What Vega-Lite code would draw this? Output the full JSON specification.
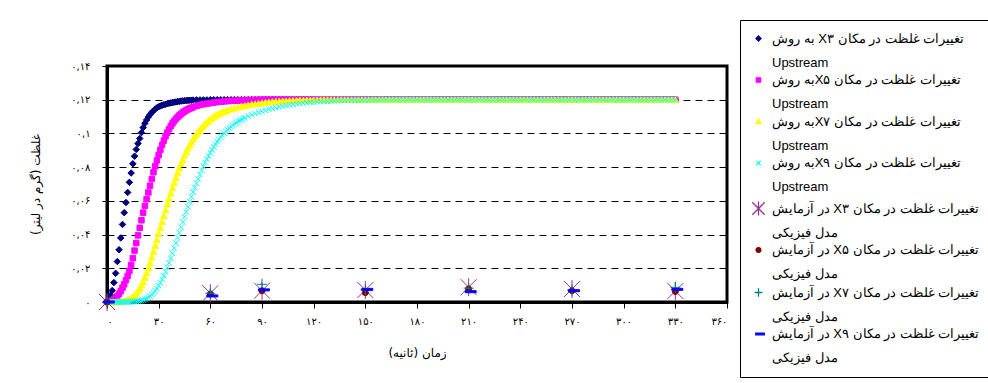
{
"$schema": "https://vega.github.io/schema/vega-lite/v6.json",
"width": 620, "height": 236,
"autosize": {"type": "none"},
"padding": {"left": 107, "top": 66, "right": 261, "bottom": 81},
"background": "white",
"data": {"values": [
{"s":"a","t":0,"c":0},{"s":"a","t":1,"c":0.0015},{"s":"a","t":2,"c":0.004},{"s":"a","t":3,"c":0.0068},{"s":"a","t":4,"c":0.0115},{"s":"a","t":5,"c":0.017},{"s":"a","t":6,"c":0.024},{"s":"a","t":7,"c":0.031},{"s":"a","t":8,"c":0.038},{"s":"a","t":9,"c":0.046},{"s":"a","t":10,"c":0.053},{"s":"a","t":11,"c":0.059},{"s":"a","t":12,"c":0.065},{"s":"a","t":13,"c":0.071},{"s":"a","t":14,"c":0.0765},{"s":"a","t":15,"c":0.082},{"s":"a","t":16,"c":0.0865},{"s":"a","t":17,"c":0.0905},{"s":"a","t":18,"c":0.094},{"s":"a","t":19,"c":0.097},{"s":"a","t":20,"c":0.1005},{"s":"a","t":21,"c":0.1035},{"s":"a","t":22,"c":0.106},{"s":"a","t":23,"c":0.108},{"s":"a","t":24,"c":0.1098},{"s":"a","t":25,"c":0.1112},{"s":"a","t":26,"c":0.1125},{"s":"a","t":27,"c":0.1135},{"s":"a","t":28,"c":0.1145},{"s":"a","t":29,"c":0.1152},{"s":"a","t":30,"c":0.1158},{"s":"a","t":31,"c":0.1163},{"s":"a","t":32,"c":0.1167},{"s":"a","t":33,"c":0.117},{"s":"a","t":34,"c":0.1173},{"s":"a","t":35,"c":0.1176},{"s":"a","t":36,"c":0.1179},{"s":"a","t":37,"c":0.1181},{"s":"a","t":38,"c":0.1183},{"s":"a","t":39,"c":0.1185},{"s":"a","t":40,"c":0.1187},{"s":"a","t":41,"c":0.1189},{"s":"a","t":42,"c":0.119},{"s":"a","t":43,"c":0.1192},{"s":"a","t":44,"c":0.1193},{"s":"a","t":45,"c":0.1194},{"s":"a","t":46,"c":0.1195},{"s":"a","t":47,"c":0.1196},{"s":"a","t":48,"c":0.1197},{"s":"a","t":49,"c":0.1197},{"s":"a","t":50,"c":0.1198},{"s":"a","t":52,"c":0.1199},{"s":"a","t":54,"c":0.1199},{"s":"a","t":56,"c":0.1199},{"s":"a","t":58,"c":0.1199},
{"s":"a","t":60,"c":0.12},{"s":"a","t":62,"c":0.12},{"s":"a","t":64,"c":0.12},{"s":"a","t":66,"c":0.12},{"s":"a","t":68,"c":0.12},{"s":"a","t":70,"c":0.12},{"s":"a","t":72,"c":0.12},{"s":"a","t":74,"c":0.12},{"s":"a","t":76,"c":0.12},{"s":"a","t":78,"c":0.12},{"s":"a","t":80,"c":0.12},{"s":"a","t":82,"c":0.12},{"s":"a","t":84,"c":0.12},{"s":"a","t":86,"c":0.12},{"s":"a","t":88,"c":0.12},{"s":"a","t":90,"c":0.12},{"s":"a","t":92,"c":0.12},{"s":"a","t":94,"c":0.12},{"s":"a","t":96,"c":0.12},{"s":"a","t":98,"c":0.12},{"s":"a","t":100,"c":0.12},{"s":"a","t":102,"c":0.12},{"s":"a","t":104,"c":0.12},{"s":"a","t":106,"c":0.12},{"s":"a","t":108,"c":0.12},{"s":"a","t":110,"c":0.12},{"s":"a","t":112,"c":0.12},{"s":"a","t":114,"c":0.12},{"s":"a","t":116,"c":0.12},{"s":"a","t":118,"c":0.12},{"s":"a","t":120,"c":0.12},{"s":"a","t":122,"c":0.12},{"s":"a","t":124,"c":0.12},{"s":"a","t":126,"c":0.12},{"s":"a","t":128,"c":0.12},{"s":"a","t":130,"c":0.12},{"s":"a","t":132,"c":0.12},{"s":"a","t":134,"c":0.12},{"s":"a","t":136,"c":0.12},{"s":"a","t":138,"c":0.12},{"s":"a","t":140,"c":0.12},{"s":"a","t":142,"c":0.12},{"s":"a","t":144,"c":0.12},{"s":"a","t":146,"c":0.12},{"s":"a","t":148,"c":0.12},{"s":"a","t":150,"c":0.12},{"s":"a","t":152,"c":0.12},{"s":"a","t":154,"c":0.12},{"s":"a","t":156,"c":0.12},{"s":"a","t":158,"c":0.12},{"s":"a","t":160,"c":0.12},{"s":"a","t":162,"c":0.12},{"s":"a","t":164,"c":0.12},{"s":"a","t":166,"c":0.12},{"s":"a","t":168,"c":0.12},{"s":"a","t":170,"c":0.12},{"s":"a","t":172,"c":0.12},{"s":"a","t":174,"c":0.12},{"s":"a","t":176,"c":0.12},{"s":"a","t":178,"c":0.12},{"s":"a","t":180,"c":0.12},{"s":"a","t":182,"c":0.12},{"s":"a","t":184,"c":0.12},{"s":"a","t":186,"c":0.12},{"s":"a","t":188,"c":0.12},{"s":"a","t":190,"c":0.12},{"s":"a","t":192,"c":0.12},{"s":"a","t":194,"c":0.12},{"s":"a","t":196,"c":0.12},{"s":"a","t":198,"c":0.12},{"s":"a","t":200,"c":0.12},{"s":"a","t":202,"c":0.12},{"s":"a","t":204,"c":0.12},{"s":"a","t":206,"c":0.12},{"s":"a","t":208,"c":0.12},{"s":"a","t":210,"c":0.12},{"s":"a","t":212,"c":0.12},{"s":"a","t":214,"c":0.12},{"s":"a","t":216,"c":0.12},{"s":"a","t":218,"c":0.12},{"s":"a","t":220,"c":0.12},{"s":"a","t":222,"c":0.12},{"s":"a","t":224,"c":0.12},{"s":"a","t":226,"c":0.12},{"s":"a","t":228,"c":0.12},{"s":"a","t":230,"c":0.12},{"s":"a","t":232,"c":0.12},{"s":"a","t":234,"c":0.12},{"s":"a","t":236,"c":0.12},{"s":"a","t":238,"c":0.12},{"s":"a","t":240,"c":0.12},{"s":"a","t":242,"c":0.12},{"s":"a","t":244,"c":0.12},{"s":"a","t":246,"c":0.12},{"s":"a","t":248,"c":0.12},{"s":"a","t":250,"c":0.12},{"s":"a","t":252,"c":0.12},{"s":"a","t":254,"c":0.12},{"s":"a","t":256,"c":0.12},{"s":"a","t":258,"c":0.12},{"s":"a","t":260,"c":0.12},{"s":"a","t":262,"c":0.12},{"s":"a","t":264,"c":0.12},{"s":"a","t":266,"c":0.12},{"s":"a","t":268,"c":0.12},{"s":"a","t":270,"c":0.12},{"s":"a","t":272,"c":0.12},{"s":"a","t":274,"c":0.12},{"s":"a","t":276,"c":0.12},{"s":"a","t":278,"c":0.12},{"s":"a","t":280,"c":0.12},{"s":"a","t":282,"c":0.12},{"s":"a","t":284,"c":0.12},{"s":"a","t":286,"c":0.12},{"s":"a","t":288,"c":0.12},{"s":"a","t":290,"c":0.12},{"s":"a","t":292,"c":0.12},{"s":"a","t":294,"c":0.12},{"s":"a","t":296,"c":0.12},{"s":"a","t":298,"c":0.12},{"s":"a","t":300,"c":0.12},{"s":"a","t":302,"c":0.12},{"s":"a","t":304,"c":0.12},{"s":"a","t":306,"c":0.12},{"s":"a","t":308,"c":0.12},{"s":"a","t":310,"c":0.12},{"s":"a","t":312,"c":0.12},{"s":"a","t":314,"c":0.12},{"s":"a","t":316,"c":0.12},{"s":"a","t":318,"c":0.12},{"s":"a","t":320,"c":0.12},{"s":"a","t":322,"c":0.12},{"s":"a","t":324,"c":0.12},{"s":"a","t":326,"c":0.12},{"s":"a","t":328,"c":0.12},{"s":"a","t":330,"c":0.12},
{"s":"b","t":0,"c":0},{"s":"b","t":1,"c":0},{"s":"b","t":2,"c":0.0003},{"s":"b","t":3,"c":0.0008},{"s":"b","t":4,"c":0.0015},{"s":"b","t":5,"c":0.0025},{"s":"b","t":6,"c":0.0035},{"s":"b","t":7,"c":0.0048},{"s":"b","t":8,"c":0.0065},{"s":"b","t":9,"c":0.0085},{"s":"b","t":10,"c":0.0105},{"s":"b","t":11,"c":0.013},{"s":"b","t":12,"c":0.0155},{"s":"b","t":13,"c":0.0185},{"s":"b","t":14,"c":0.022},{"s":"b","t":15,"c":0.026},{"s":"b","t":16,"c":0.0305},{"s":"b","t":17,"c":0.035},{"s":"b","t":18,"c":0.0395},{"s":"b","t":19,"c":0.044},{"s":"b","t":20,"c":0.0485},{"s":"b","t":21,"c":0.053},{"s":"b","t":22,"c":0.057},{"s":"b","t":23,"c":0.061},{"s":"b","t":24,"c":0.065},{"s":"b","t":25,"c":0.069},{"s":"b","t":26,"c":0.073},{"s":"b","t":27,"c":0.077},{"s":"b","t":28,"c":0.0805},{"s":"b","t":29,"c":0.084},{"s":"b","t":30,"c":0.0872},{"s":"b","t":31,"c":0.0903},{"s":"b","t":32,"c":0.0932},{"s":"b","t":33,"c":0.0958},{"s":"b","t":34,"c":0.0983},{"s":"b","t":35,"c":0.1005},{"s":"b","t":36,"c":0.1025},{"s":"b","t":37,"c":0.1043},{"s":"b","t":38,"c":0.1059},{"s":"b","t":39,"c":0.1073},{"s":"b","t":40,"c":0.1086},{"s":"b","t":41,"c":0.1097},{"s":"b","t":42,"c":0.1107},{"s":"b","t":43,"c":0.1116},{"s":"b","t":44,"c":0.1124},{"s":"b","t":45,"c":0.1131},{"s":"b","t":46,"c":0.1137},{"s":"b","t":47,"c":0.1143},{"s":"b","t":48,"c":0.1148},{"s":"b","t":49,"c":0.1152},{"s":"b","t":50,"c":0.1156},{"s":"b","t":52,"c":0.1163},{"s":"b","t":54,"c":0.1169},{"s":"b","t":56,"c":0.1173},{"s":"b","t":58,"c":0.1177},{"s":"b","t":60,"c":0.118},{"s":"b","t":62,"c":0.1183},{"s":"b","t":64,"c":0.1186},{"s":"b","t":66,"c":0.1188},{"s":"b","t":68,"c":0.119},{"s":"b","t":70,"c":0.1192},{"s":"b","t":72,"c":0.1193},{"s":"b","t":74,"c":0.1194},{"s":"b","t":76,"c":0.1195},{"s":"b","t":78,"c":0.1196},{"s":"b","t":80,"c":0.1197},{"s":"b","t":82,"c":0.1198},{"s":"b","t":84,"c":0.1198},{"s":"b","t":86,"c":0.1199},{"s":"b","t":88,"c":0.1199},
{"s":"b","t":90,"c":0.12},{"s":"b","t":92,"c":0.12},{"s":"b","t":94,"c":0.12},{"s":"b","t":96,"c":0.12},{"s":"b","t":98,"c":0.12},{"s":"b","t":100,"c":0.12},{"s":"b","t":102,"c":0.12},{"s":"b","t":104,"c":0.12},{"s":"b","t":106,"c":0.12},{"s":"b","t":108,"c":0.12},{"s":"b","t":110,"c":0.12},{"s":"b","t":112,"c":0.12},{"s":"b","t":114,"c":0.12},{"s":"b","t":116,"c":0.12},{"s":"b","t":118,"c":0.12},{"s":"b","t":120,"c":0.12},{"s":"b","t":122,"c":0.12},{"s":"b","t":124,"c":0.12},{"s":"b","t":126,"c":0.12},{"s":"b","t":128,"c":0.12},{"s":"b","t":130,"c":0.12},{"s":"b","t":132,"c":0.12},{"s":"b","t":134,"c":0.12},{"s":"b","t":136,"c":0.12},{"s":"b","t":138,"c":0.12},{"s":"b","t":140,"c":0.12},{"s":"b","t":142,"c":0.12},{"s":"b","t":144,"c":0.12},{"s":"b","t":146,"c":0.12},{"s":"b","t":148,"c":0.12},{"s":"b","t":150,"c":0.12},{"s":"b","t":152,"c":0.12},{"s":"b","t":154,"c":0.12},{"s":"b","t":156,"c":0.12},{"s":"b","t":158,"c":0.12},{"s":"b","t":160,"c":0.12},{"s":"b","t":162,"c":0.12},{"s":"b","t":164,"c":0.12},{"s":"b","t":166,"c":0.12},{"s":"b","t":168,"c":0.12},{"s":"b","t":170,"c":0.12},{"s":"b","t":172,"c":0.12},{"s":"b","t":174,"c":0.12},{"s":"b","t":176,"c":0.12},{"s":"b","t":178,"c":0.12},{"s":"b","t":180,"c":0.12},{"s":"b","t":182,"c":0.12},{"s":"b","t":184,"c":0.12},{"s":"b","t":186,"c":0.12},{"s":"b","t":188,"c":0.12},{"s":"b","t":190,"c":0.12},{"s":"b","t":192,"c":0.12},{"s":"b","t":194,"c":0.12},{"s":"b","t":196,"c":0.12},{"s":"b","t":198,"c":0.12},{"s":"b","t":200,"c":0.12},{"s":"b","t":202,"c":0.12},{"s":"b","t":204,"c":0.12},{"s":"b","t":206,"c":0.12},{"s":"b","t":208,"c":0.12},{"s":"b","t":210,"c":0.12},{"s":"b","t":212,"c":0.12},{"s":"b","t":214,"c":0.12},{"s":"b","t":216,"c":0.12},{"s":"b","t":218,"c":0.12},{"s":"b","t":220,"c":0.12},{"s":"b","t":222,"c":0.12},{"s":"b","t":224,"c":0.12},{"s":"b","t":226,"c":0.12},{"s":"b","t":228,"c":0.12},{"s":"b","t":230,"c":0.12},{"s":"b","t":232,"c":0.12},{"s":"b","t":234,"c":0.12},{"s":"b","t":236,"c":0.12},{"s":"b","t":238,"c":0.12},{"s":"b","t":240,"c":0.12},{"s":"b","t":242,"c":0.12},{"s":"b","t":244,"c":0.12},{"s":"b","t":246,"c":0.12},{"s":"b","t":248,"c":0.12},{"s":"b","t":250,"c":0.12},{"s":"b","t":252,"c":0.12},{"s":"b","t":254,"c":0.12},{"s":"b","t":256,"c":0.12},{"s":"b","t":258,"c":0.12},{"s":"b","t":260,"c":0.12},{"s":"b","t":262,"c":0.12},{"s":"b","t":264,"c":0.12},{"s":"b","t":266,"c":0.12},{"s":"b","t":268,"c":0.12},{"s":"b","t":270,"c":0.12},{"s":"b","t":272,"c":0.12},{"s":"b","t":274,"c":0.12},{"s":"b","t":276,"c":0.12},{"s":"b","t":278,"c":0.12},{"s":"b","t":280,"c":0.12},{"s":"b","t":282,"c":0.12},{"s":"b","t":284,"c":0.12},{"s":"b","t":286,"c":0.12},{"s":"b","t":288,"c":0.12},{"s":"b","t":290,"c":0.12},{"s":"b","t":292,"c":0.12},{"s":"b","t":294,"c":0.12},{"s":"b","t":296,"c":0.12},{"s":"b","t":298,"c":0.12},{"s":"b","t":300,"c":0.12},{"s":"b","t":302,"c":0.12},{"s":"b","t":304,"c":0.12},{"s":"b","t":306,"c":0.12},{"s":"b","t":308,"c":0.12},{"s":"b","t":310,"c":0.12},{"s":"b","t":312,"c":0.12},{"s":"b","t":314,"c":0.12},{"s":"b","t":316,"c":0.12},{"s":"b","t":318,"c":0.12},{"s":"b","t":320,"c":0.12},{"s":"b","t":322,"c":0.12},{"s":"b","t":324,"c":0.12},{"s":"b","t":326,"c":0.12},{"s":"b","t":328,"c":0.12},{"s":"b","t":330,"c":0.12},
{"s":"c","t":0,"c":0},{"s":"c","t":1,"c":0},{"s":"c","t":2,"c":0},{"s":"c","t":3,"c":0},{"s":"c","t":4,"c":0},{"s":"c","t":5,"c":0},{"s":"c","t":6,"c":0.0001},{"s":"c","t":7,"c":0.0002},{"s":"c","t":8,"c":0.0003},{"s":"c","t":9,"c":0.0004},{"s":"c","t":10,"c":0.0005},{"s":"c","t":11,"c":0.0008},{"s":"c","t":12,"c":0.0012},{"s":"c","t":13,"c":0.0017},{"s":"c","t":14,"c":0.0023},{"s":"c","t":15,"c":0.003},{"s":"c","t":16,"c":0.004},{"s":"c","t":17,"c":0.0052},{"s":"c","t":18,"c":0.0066},{"s":"c","t":19,"c":0.0082},{"s":"c","t":20,"c":0.01},{"s":"c","t":21,"c":0.012},{"s":"c","t":22,"c":0.0145},{"s":"c","t":23,"c":0.0172},{"s":"c","t":24,"c":0.02},{"s":"c","t":25,"c":0.0232},{"s":"c","t":26,"c":0.0265},{"s":"c","t":27,"c":0.03},{"s":"c","t":28,"c":0.0335},{"s":"c","t":29,"c":0.037},{"s":"c","t":30,"c":0.0405},{"s":"c","t":31,"c":0.044},{"s":"c","t":32,"c":0.0475},{"s":"c","t":33,"c":0.051},{"s":"c","t":34,"c":0.0545},{"s":"c","t":35,"c":0.058},{"s":"c","t":36,"c":0.0613},{"s":"c","t":37,"c":0.0645},{"s":"c","t":38,"c":0.0677},{"s":"c","t":39,"c":0.0708},{"s":"c","t":40,"c":0.0738},{"s":"c","t":41,"c":0.0767},{"s":"c","t":42,"c":0.0795},{"s":"c","t":43,"c":0.0821},{"s":"c","t":44,"c":0.0846},{"s":"c","t":45,"c":0.087},{"s":"c","t":46,"c":0.0892},{"s":"c","t":47,"c":0.0913},{"s":"c","t":48,"c":0.0932},{"s":"c","t":49,"c":0.095},{"s":"c","t":50,"c":0.0967},{"s":"c","t":51,"c":0.0983},{"s":"c","t":52,"c":0.0998},{"s":"c","t":53,"c":0.1012},{"s":"c","t":54,"c":0.1024},{"s":"c","t":55,"c":0.1035},{"s":"c","t":56,"c":0.1047},{"s":"c","t":57,"c":0.1058},{"s":"c","t":58,"c":0.1068},{"s":"c","t":59,"c":0.1077},{"s":"c","t":60,"c":0.1085},{"s":"c","t":61,"c":0.1093},{"s":"c","t":62,"c":0.11},{"s":"c","t":63,"c":0.1106},{"s":"c","t":64,"c":0.1112},{"s":"c","t":65,"c":0.1117},{"s":"c","t":66,"c":0.1122},{"s":"c","t":67,"c":0.1126},{"s":"c","t":68,"c":0.113},{"s":"c","t":69,"c":0.1134},{"s":"c","t":70,"c":0.1138},{"s":"c","t":72,"c":0.1144},{"s":"c","t":74,"c":0.115},{"s":"c","t":76,"c":0.1155},{"s":"c","t":78,"c":0.116},{"s":"c","t":80,"c":0.1164},{"s":"c","t":82,"c":0.1168},{"s":"c","t":84,"c":0.1172},{"s":"c","t":86,"c":0.1175},{"s":"c","t":88,"c":0.1178},{"s":"c","t":90,"c":0.1181},{"s":"c","t":92,"c":0.1184},{"s":"c","t":94,"c":0.1186},{"s":"c","t":96,"c":0.1188},{"s":"c","t":98,"c":0.119},{"s":"c","t":100,"c":0.1191},{"s":"c","t":102,"c":0.1192},{"s":"c","t":104,"c":0.1193},{"s":"c","t":106,"c":0.1194},{"s":"c","t":108,"c":0.1195},{"s":"c","t":110,"c":0.1196},{"s":"c","t":112,"c":0.1197},{"s":"c","t":114,"c":0.1197},{"s":"c","t":116,"c":0.1198},{"s":"c","t":118,"c":0.1198},{"s":"c","t":120,"c":0.1199},{"s":"c","t":122,"c":0.1199},
{"s":"c","t":124,"c":0.12},{"s":"c","t":126,"c":0.12},{"s":"c","t":128,"c":0.12},{"s":"c","t":130,"c":0.12},{"s":"c","t":132,"c":0.12},{"s":"c","t":134,"c":0.12},{"s":"c","t":136,"c":0.12},{"s":"c","t":138,"c":0.12},{"s":"c","t":140,"c":0.12},{"s":"c","t":142,"c":0.12},{"s":"c","t":144,"c":0.12},{"s":"c","t":146,"c":0.12},{"s":"c","t":148,"c":0.12},{"s":"c","t":150,"c":0.12},{"s":"c","t":152,"c":0.12},{"s":"c","t":154,"c":0.12},{"s":"c","t":156,"c":0.12},{"s":"c","t":158,"c":0.12},{"s":"c","t":160,"c":0.12},{"s":"c","t":162,"c":0.12},{"s":"c","t":164,"c":0.12},{"s":"c","t":166,"c":0.12},{"s":"c","t":168,"c":0.12},{"s":"c","t":170,"c":0.12},{"s":"c","t":172,"c":0.12},{"s":"c","t":174,"c":0.12},{"s":"c","t":176,"c":0.12},{"s":"c","t":178,"c":0.12},{"s":"c","t":180,"c":0.12},{"s":"c","t":182,"c":0.12},{"s":"c","t":184,"c":0.12},{"s":"c","t":186,"c":0.12},{"s":"c","t":188,"c":0.12},{"s":"c","t":190,"c":0.12},{"s":"c","t":192,"c":0.12},{"s":"c","t":194,"c":0.12},{"s":"c","t":196,"c":0.12},{"s":"c","t":198,"c":0.12},{"s":"c","t":200,"c":0.12},{"s":"c","t":202,"c":0.12},{"s":"c","t":204,"c":0.12},{"s":"c","t":206,"c":0.12},{"s":"c","t":208,"c":0.12},{"s":"c","t":210,"c":0.12},{"s":"c","t":212,"c":0.12},{"s":"c","t":214,"c":0.12},{"s":"c","t":216,"c":0.12},{"s":"c","t":218,"c":0.12},{"s":"c","t":220,"c":0.12},{"s":"c","t":222,"c":0.12},{"s":"c","t":224,"c":0.12},{"s":"c","t":226,"c":0.12},{"s":"c","t":228,"c":0.12},{"s":"c","t":230,"c":0.12},{"s":"c","t":232,"c":0.12},{"s":"c","t":234,"c":0.12},{"s":"c","t":236,"c":0.12},{"s":"c","t":238,"c":0.12},{"s":"c","t":240,"c":0.12},{"s":"c","t":242,"c":0.12},{"s":"c","t":244,"c":0.12},{"s":"c","t":246,"c":0.12},{"s":"c","t":248,"c":0.12},{"s":"c","t":250,"c":0.12},{"s":"c","t":252,"c":0.12},{"s":"c","t":254,"c":0.12},{"s":"c","t":256,"c":0.12},{"s":"c","t":258,"c":0.12},{"s":"c","t":260,"c":0.12},{"s":"c","t":262,"c":0.12},{"s":"c","t":264,"c":0.12},{"s":"c","t":266,"c":0.12},{"s":"c","t":268,"c":0.12},{"s":"c","t":270,"c":0.12},{"s":"c","t":272,"c":0.12},{"s":"c","t":274,"c":0.12},{"s":"c","t":276,"c":0.12},{"s":"c","t":278,"c":0.12},{"s":"c","t":280,"c":0.12},{"s":"c","t":282,"c":0.12},{"s":"c","t":284,"c":0.12},{"s":"c","t":286,"c":0.12},{"s":"c","t":288,"c":0.12},{"s":"c","t":290,"c":0.12},{"s":"c","t":292,"c":0.12},{"s":"c","t":294,"c":0.12},{"s":"c","t":296,"c":0.12},{"s":"c","t":298,"c":0.12},{"s":"c","t":300,"c":0.12},{"s":"c","t":302,"c":0.12},{"s":"c","t":304,"c":0.12},{"s":"c","t":306,"c":0.12},{"s":"c","t":308,"c":0.12},{"s":"c","t":310,"c":0.12},{"s":"c","t":312,"c":0.12},{"s":"c","t":314,"c":0.12},{"s":"c","t":316,"c":0.12},{"s":"c","t":318,"c":0.12},{"s":"c","t":320,"c":0.12},{"s":"c","t":322,"c":0.12},{"s":"c","t":324,"c":0.12},{"s":"c","t":326,"c":0.12},{"s":"c","t":328,"c":0.12},{"s":"c","t":330,"c":0.12},
{"s":"d","t":0,"c":0},{"s":"d","t":1,"c":0},{"s":"d","t":2,"c":0},{"s":"d","t":3,"c":0},{"s":"d","t":4,"c":0},{"s":"d","t":5,"c":0},{"s":"d","t":6,"c":0},{"s":"d","t":7,"c":0},{"s":"d","t":8,"c":0},{"s":"d","t":9,"c":0},{"s":"d","t":10,"c":0},{"s":"d","t":11,"c":0},{"s":"d","t":12,"c":0},{"s":"d","t":13,"c":0},{"s":"d","t":14,"c":0},{"s":"d","t":15,"c":0.0002},{"s":"d","t":16,"c":0.0003},{"s":"d","t":17,"c":0.0004},{"s":"d","t":18,"c":0.0005},{"s":"d","t":19,"c":0.0007},{"s":"d","t":20,"c":0.0009},{"s":"d","t":21,"c":0.0012},{"s":"d","t":22,"c":0.0016},{"s":"d","t":23,"c":0.0021},{"s":"d","t":24,"c":0.0027},{"s":"d","t":25,"c":0.0035},{"s":"d","t":26,"c":0.0044},{"s":"d","t":27,"c":0.0054},{"s":"d","t":28,"c":0.0066},{"s":"d","t":29,"c":0.008},{"s":"d","t":30,"c":0.0096},{"s":"d","t":31,"c":0.0114},{"s":"d","t":32,"c":0.0134},{"s":"d","t":33,"c":0.0156},{"s":"d","t":34,"c":0.018},{"s":"d","t":35,"c":0.0205},{"s":"d","t":36,"c":0.0232},{"s":"d","t":37,"c":0.026},{"s":"d","t":38,"c":0.0289},{"s":"d","t":39,"c":0.0319},{"s":"d","t":40,"c":0.035},{"s":"d","t":41,"c":0.0381},{"s":"d","t":42,"c":0.0412},{"s":"d","t":43,"c":0.0443},{"s":"d","t":44,"c":0.0474},{"s":"d","t":45,"c":0.0505},{"s":"d","t":46,"c":0.0535},{"s":"d","t":47,"c":0.0565},{"s":"d","t":48,"c":0.0595},{"s":"d","t":49,"c":0.0624},{"s":"d","t":50,"c":0.0652},{"s":"d","t":51,"c":0.0679},{"s":"d","t":52,"c":0.0705},{"s":"d","t":53,"c":0.073},{"s":"d","t":54,"c":0.0756},{"s":"d","t":55,"c":0.0782},{"s":"d","t":56,"c":0.0805},{"s":"d","t":57,"c":0.0827},{"s":"d","t":58,"c":0.0847},{"s":"d","t":59,"c":0.0866},{"s":"d","t":60,"c":0.0885},{"s":"d","t":61,"c":0.0903},{"s":"d","t":62,"c":0.092},{"s":"d","t":63,"c":0.0936},{"s":"d","t":64,"c":0.0951},{"s":"d","t":65,"c":0.0965},{"s":"d","t":66,"c":0.0978},{"s":"d","t":67,"c":0.099},{"s":"d","t":68,"c":0.1001},{"s":"d","t":69,"c":0.1012},{"s":"d","t":70,"c":0.1022},{"s":"d","t":71,"c":0.1031},{"s":"d","t":72,"c":0.104},{"s":"d","t":73,"c":0.1048},{"s":"d","t":74,"c":0.1056},{"s":"d","t":75,"c":0.1063},{"s":"d","t":76,"c":0.107},{"s":"d","t":77,"c":0.1076},{"s":"d","t":78,"c":0.1082},{"s":"d","t":79,"c":0.1088},{"s":"d","t":80,"c":0.1093},{"s":"d","t":82,"c":0.1102},{"s":"d","t":84,"c":0.111},{"s":"d","t":86,"c":0.1118},{"s":"d","t":88,"c":0.1125},{"s":"d","t":90,"c":0.1131},{"s":"d","t":92,"c":0.1137},{"s":"d","t":94,"c":0.1143},{"s":"d","t":96,"c":0.1148},{"s":"d","t":98,"c":0.1153},{"s":"d","t":100,"c":0.1158},{"s":"d","t":102,"c":0.1162},{"s":"d","t":104,"c":0.1166},{"s":"d","t":106,"c":0.117},{"s":"d","t":108,"c":0.1173},{"s":"d","t":110,"c":0.1176},{"s":"d","t":112,"c":0.1178},{"s":"d","t":114,"c":0.118},{"s":"d","t":116,"c":0.1182},{"s":"d","t":118,"c":0.1184},{"s":"d","t":120,"c":0.1186},{"s":"d","t":122,"c":0.1188},{"s":"d","t":124,"c":0.1189},{"s":"d","t":126,"c":0.119},{"s":"d","t":128,"c":0.1191},{"s":"d","t":130,"c":0.1192},{"s":"d","t":132,"c":0.1193},{"s":"d","t":134,"c":0.1194},{"s":"d","t":136,"c":0.1195},{"s":"d","t":138,"c":0.1196},{"s":"d","t":140,"c":0.1196},{"s":"d","t":142,"c":0.1197},{"s":"d","t":144,"c":0.1197},{"s":"d","t":146,"c":0.1197},{"s":"d","t":148,"c":0.1198},{"s":"d","t":150,"c":0.1198},{"s":"d","t":152,"c":0.1198},{"s":"d","t":154,"c":0.1199},{"s":"d","t":156,"c":0.1199},{"s":"d","t":158,"c":0.1199},
{"s":"d","t":160,"c":0.12},{"s":"d","t":162,"c":0.12},{"s":"d","t":164,"c":0.12},{"s":"d","t":166,"c":0.12},{"s":"d","t":168,"c":0.12},{"s":"d","t":170,"c":0.12},{"s":"d","t":172,"c":0.12},{"s":"d","t":174,"c":0.12},{"s":"d","t":176,"c":0.12},{"s":"d","t":178,"c":0.12},{"s":"d","t":180,"c":0.12},{"s":"d","t":182,"c":0.12},{"s":"d","t":184,"c":0.12},{"s":"d","t":186,"c":0.12},{"s":"d","t":188,"c":0.12},{"s":"d","t":190,"c":0.12},{"s":"d","t":192,"c":0.12},{"s":"d","t":194,"c":0.12},{"s":"d","t":196,"c":0.12},{"s":"d","t":198,"c":0.12},{"s":"d","t":200,"c":0.12},{"s":"d","t":202,"c":0.12},{"s":"d","t":204,"c":0.12},{"s":"d","t":206,"c":0.12},{"s":"d","t":208,"c":0.12},{"s":"d","t":210,"c":0.12},{"s":"d","t":212,"c":0.12},{"s":"d","t":214,"c":0.12},{"s":"d","t":216,"c":0.12},{"s":"d","t":218,"c":0.12},{"s":"d","t":220,"c":0.12},{"s":"d","t":222,"c":0.12},{"s":"d","t":224,"c":0.12},{"s":"d","t":226,"c":0.12},{"s":"d","t":228,"c":0.12},{"s":"d","t":230,"c":0.12},{"s":"d","t":232,"c":0.12},{"s":"d","t":234,"c":0.12},{"s":"d","t":236,"c":0.12},{"s":"d","t":238,"c":0.12},{"s":"d","t":240,"c":0.12},{"s":"d","t":242,"c":0.12},{"s":"d","t":244,"c":0.12},{"s":"d","t":246,"c":0.12},{"s":"d","t":248,"c":0.12},{"s":"d","t":250,"c":0.12},{"s":"d","t":252,"c":0.12},{"s":"d","t":254,"c":0.12},{"s":"d","t":256,"c":0.12},{"s":"d","t":258,"c":0.12},{"s":"d","t":260,"c":0.12},{"s":"d","t":262,"c":0.12},{"s":"d","t":264,"c":0.12},{"s":"d","t":266,"c":0.12},{"s":"d","t":268,"c":0.12},{"s":"d","t":270,"c":0.12},{"s":"d","t":272,"c":0.12},{"s":"d","t":274,"c":0.12},{"s":"d","t":276,"c":0.12},{"s":"d","t":278,"c":0.12},{"s":"d","t":280,"c":0.12},{"s":"d","t":282,"c":0.12},{"s":"d","t":284,"c":0.12},{"s":"d","t":286,"c":0.12},{"s":"d","t":288,"c":0.12},{"s":"d","t":290,"c":0.12},{"s":"d","t":292,"c":0.12},{"s":"d","t":294,"c":0.12},{"s":"d","t":296,"c":0.12},{"s":"d","t":298,"c":0.12},{"s":"d","t":300,"c":0.12},{"s":"d","t":302,"c":0.12},{"s":"d","t":304,"c":0.12},{"s":"d","t":306,"c":0.12},{"s":"d","t":308,"c":0.12},{"s":"d","t":310,"c":0.12},{"s":"d","t":312,"c":0.12},{"s":"d","t":314,"c":0.12},{"s":"d","t":316,"c":0.12},{"s":"d","t":318,"c":0.12},{"s":"d","t":320,"c":0.12},{"s":"d","t":322,"c":0.12},{"s":"d","t":324,"c":0.12},{"s":"d","t":326,"c":0.12},{"s":"d","t":328,"c":0.12},{"s":"d","t":330,"c":0.12},
{"s":"e","t":0,"c":0},{"s":"e","t":60,"c":0.0052},{"s":"e","t":90,"c":0.0067},{"s":"e","t":150,"c":0.0071},{"s":"e","t":210,"c":0.0088},{"s":"e","t":270,"c":0.0077},{"s":"e","t":330,"c":0.0065},
{"s":"f","t":0,"c":0},{"s":"f","t":60,"c":0.0048},{"s":"f","t":90,"c":0.0067},{"s":"f","t":150,"c":0.0055},{"s":"f","t":210,"c":0.0078},{"s":"f","t":270,"c":0.0067},{"s":"f","t":330,"c":0.0062},
{"s":"g","t":0,"c":0},{"s":"g","t":60,"c":0.0052},{"s":"g","t":90,"c":0.0105},{"s":"g","t":150,"c":0.0072},{"s":"g","t":210,"c":0.0082},{"s":"g","t":270,"c":0.0071},{"s":"g","t":330,"c":0.0087},
{"s":"h","t":0,"c":0},{"s":"h","t":60,"c":0.0036},{"s":"h","t":90,"c":0.0072},{"s":"h","t":150,"c":0.0075},{"s":"h","t":210,"c":0.0061},{"s":"h","t":270,"c":0.0067},{"s":"h","t":330,"c":0.0075}
]},
"mark": {"type": "point", "opacity": 1, "size": 100, "strokeWidth": 1},
"encoding": {
  "x": {"field": "t", "type": "quantitative",
    "scale": {"domain": [0, 360], "nice": false},
    "axis": {"values": [0,30,60,90,120,150,180,210,240,270,300,330,360],
      "labelExpr": "['۰','۳۰','۶۰','۹۰','۱۲۰','۱۵۰','۱۸۰','۲۱۰','۲۴۰','۲۷۰','۳۰۰','۳۳۰','۳۶۰'][round(datum.value/30)]",
      "title": "\u202bزمان (ثانیه)\u202c", "grid": false, "tickSize": 6, "labelPadding": 8, "titlePadding": 21,
      "domainWidth": 3, "labelFontSize": 10, "titleFontSize": 12}},
  "y": {"field": "c", "type": "quantitative",
    "scale": {"domain": [0, 0.14], "nice": false},
    "axis": {"values": [0,0.02,0.04,0.06,0.08,0.1,0.12,0.14],
      "labelExpr": "['۰','۰,۰۲','۰,۰۴','۰,۰۶','۰,۰۸','۰,۱','۰,۱۲','۰,۱۴'][round(datum.value*50)]",
      "title": "\u202bغلظت (گرم در لیتر)\u202c", "grid": true, "gridColor": "black", "gridDash": [7,5], "gridWidth": 1,
      "tickSize": 5, "labelPadding": 12, "titlePadding": 28, "domainWidth": 3, "labelFontSize": 10, "titleFontSize": 12}},
  "shape": {"field": "s", "type": "nominal",
    "scale": {"domain": ["a","b","c","d","e","f","g","h"],
      "range": ["M0,-0.65L0.65,0L0,0.65L-0.65,0Z",
                "M-0.55,-0.55H0.55V0.55H-0.55Z",
                "M0,-0.6L0.65,0.55H-0.65Z",
                "M-0.55,-0.55L0.55,0.55M-0.55,0.55L0.55,-0.55",
                "M-1.6,-1.6L1.6,1.6M-1.6,1.6L1.6,-1.6M0,-1.8V1.8",
                "M0.6,0A0.6,0.6,0,1,1,-0.6,0A0.6,0.6,0,1,1,0.6,0Z",
                "M-1,0H1M0,-1.1V1.1",
                "M-0.7,-0.2H1.5V0.2H-0.7Z"]},
    "legend": {
      "orient": "none", "legendX": 633, "legendY": -46, "padding": 12, "rowPadding": 3.5,
      "labelOffset": 7, "labelFont": "Liberation Sans", "labelFontSize": 13, "labelLimit": 400, "labelColor": "black",
      "strokeColor": "black", "fillColor": "white", "symbolSize": 60, "symbolStrokeWidth": 1.3, "title": null,
      "labelExpr": "[['\u202bتغییرات غلظت در مکان X۳ به روش\u202c','Upstream'],['\u202bتغییرات غلظت در مکان X۵به روش\u202c','Upstream'],['\u202bتغییرات غلظت در مکان X۷به روش\u202c','Upstream'],['\u202bتغییرات غلظت در مکان X۹به روش\u202c','Upstream'],['\u202bتغییرات غلظت در مکان X۳ در آزمایش\u202c','مدل فیزیکی'],['\u202bتغییرات غلظت در مکان X۵ در آزمایش\u202c','مدل فیزیکی'],['\u202bتغییرات غلظت در مکان X۷ در آزمایش\u202c','مدل فیزیکی'],['\u202bتغییرات غلظت در مکان X۹ در آزمایش\u202c','مدل فیزیکی']][indexof(['a','b','c','d','e','f','g','h'], datum.value)]"
    }},
  "fill": {"field": "s", "type": "nominal",
    "scale": {"domain": ["a","b","c","d","e","f","g","h"],
      "range": ["#000080","#FF00FF","#FFFF00","transparent","transparent","#800000","transparent","#0000FF"]}},
  "stroke": {"field": "s", "type": "nominal",
    "scale": {"domain": ["a","b","c","d","e","f","g","h"],
      "range": ["#000080","#FF00FF","#FFFF00","#00FFFF","#993399","#800000","#008080","#0000FF"]}}
},
"config": {
  "style": {"guide-label": {"lineHeight": 24}},
  "view": {"stroke": "black", "strokeWidth": 3},
  "axis": {"labelColor": "black", "titleColor": "black", "domainColor": "black", "tickColor": "black",
    "labelFont": "DejaVu Sans", "titleFont": "DejaVu Sans", "titleFontWeight": "normal"}
}
}
